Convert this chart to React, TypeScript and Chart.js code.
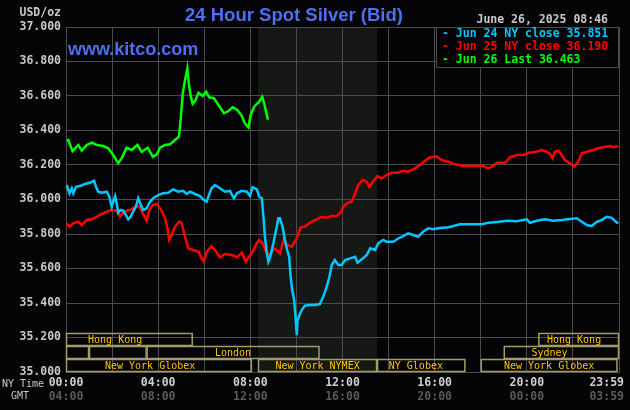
import React, { useEffect, useRef } from "react";
import { Chart, registerables } from "chart.js";
Chart.register(...registerables);

// ---- data (minutes after 00:00 NY time, price USD/oz) ----
const jun24Times = [2, 9, 15, 19, 26, 36, 49, 62, 73, 78, 84, 93, 106, 113, 119, 123, 128, 132, 136, 142, 149, 155, 162, 168, 175, 182, 188, 193, 201, 210, 219, 227, 240, 253, 266, 279, 292, 305, 314, 323, 336, 349, 359, 366, 379, 388, 401, 414, 427, 437, 445, 458, 471, 479, 486, 497, 503, 510, 514, 518, 523, 527, 533, 540, 547, 553, 557, 564, 570, 576, 581, 585, 589, 594, 597, 601, 603, 608, 614, 622, 635, 648, 661, 670, 679, 686, 692, 700, 709, 718, 727, 740, 753, 759, 770, 783, 792, 805, 813, 826, 835, 852, 865, 878, 891, 904, 917, 930, 943, 956, 969, 996, 1009, 1026, 1052, 1082, 1100, 1122, 1148, 1174, 1200, 1208, 1226, 1247, 1269, 1291, 1312, 1330, 1343, 1356, 1369, 1382, 1395, 1408, 1421, 1432, 1438];
const jun24Values = [36.084, 36.036, 36.065, 36.036, 36.074, 36.078, 36.09, 36.097, 36.109, 36.074, 36.045, 36.039, 36.045, 36.016, 35.958, 35.987, 36.02, 35.978, 35.923, 35.939, 35.935, 35.914, 35.885, 35.9, 35.929, 35.958, 36.007, 35.978, 35.939, 35.949, 35.987, 36.007, 36.026, 36.036, 36.039, 36.059, 36.045, 36.05, 36.032, 36.045, 36.032, 36.02, 35.997, 35.987, 36.065, 36.084, 36.065, 36.045, 36.05, 36.007, 36.036, 36.05, 36.045, 36.02, 36.071, 36.059, 36.016, 36.007, 35.9, 35.784, 35.688, 35.64, 35.678, 35.746, 35.823, 35.891, 35.891, 35.842, 35.765, 35.707, 35.668, 35.552, 35.475, 35.417, 35.34, 35.214, 35.3, 35.33, 35.359, 35.384, 35.388, 35.388, 35.394, 35.437, 35.495, 35.552, 35.62, 35.649, 35.62, 35.62, 35.649, 35.659, 35.668, 35.634, 35.653, 35.678, 35.717, 35.707, 35.746, 35.765, 35.755, 35.755, 35.774, 35.788, 35.804, 35.794, 35.784, 35.813, 35.833, 35.827, 35.833, 35.839, 35.846, 35.856, 35.856, 35.856, 35.865, 35.87, 35.877, 35.874, 35.885, 35.865, 35.877, 35.885, 35.877, 35.881, 35.887, 35.891, 35.871, 35.852, 35.846, 35.871, 35.881, 35.9, 35.894, 35.871, 35.861];

const jun25Times = [2, 9, 19, 32, 41, 54, 67, 80, 93, 106, 119, 132, 141, 148, 158, 171, 182, 191, 200, 210, 217, 226, 236, 247, 258, 264, 269, 275, 284, 295, 301, 310, 318, 331, 345, 353, 359, 366, 379, 391, 401, 414, 431, 446, 458, 468, 477, 486, 497, 503, 512, 521, 531, 540, 549, 557, 568, 575, 588, 601, 611, 622, 635, 653, 666, 679, 692, 705, 714, 722, 733, 744, 753, 761, 773, 783, 790, 799, 811, 822, 835, 848, 865, 878, 891, 904, 922, 935, 948, 965, 978, 996, 1009, 1022, 1035, 1061, 1087, 1100, 1109, 1122, 1143, 1156, 1174, 1191, 1204, 1221, 1239, 1252, 1260, 1267, 1273, 1282, 1291, 1299, 1312, 1323, 1334, 1343, 1356, 1373, 1386, 1399, 1416, 1425, 1438];
const jun25Values = [35.862, 35.842, 35.862, 35.871, 35.852, 35.881, 35.885, 35.9, 35.916, 35.929, 35.939, 35.935, 35.9, 35.92, 35.935, 35.943, 35.962, 35.958, 35.92, 35.877, 35.939, 35.968, 35.974, 35.943, 35.891, 35.833, 35.765, 35.794, 35.842, 35.871, 35.862, 35.784, 35.717, 35.707, 35.697, 35.659, 35.64, 35.697, 35.73, 35.697, 35.665, 35.684, 35.678, 35.665, 35.692, 35.64, 35.668, 35.697, 35.748, 35.765, 35.746, 35.697, 35.678, 35.717, 35.707, 35.688, 35.775, 35.736, 35.726, 35.775, 35.839, 35.842, 35.865, 35.885, 35.9, 35.894, 35.904, 35.904, 35.92, 35.958, 35.981, 35.987, 36.036, 36.084, 36.113, 36.103, 36.074, 36.103, 36.136, 36.123, 36.142, 36.155, 36.155, 36.167, 36.161, 36.175, 36.2, 36.225, 36.245, 36.249, 36.229, 36.219, 36.206, 36.2, 36.194, 36.194, 36.194, 36.181, 36.19, 36.213, 36.213, 36.245, 36.258, 36.258, 36.271, 36.275, 36.287, 36.277, 36.264, 36.239, 36.277, 36.283, 36.258, 36.229, 36.21, 36.19, 36.219, 36.268, 36.277, 36.287, 36.297, 36.303, 36.31, 36.303, 36.31];

const jun26Times = [2, 6, 17, 32, 41, 54, 67, 80, 97, 110, 123, 136, 145, 158, 171, 186, 197, 213, 226, 236, 245, 258, 271, 284, 294, 299, 304, 310, 316, 320, 325, 330, 336, 345, 356, 365, 373, 385, 397, 411, 423, 434, 446, 458, 466, 475, 481, 490, 503, 511, 516, 521, 526];
const jun26Values = [36.34, 36.345, 36.28, 36.316, 36.283, 36.316, 36.33, 36.316, 36.31, 36.297, 36.258, 36.21, 36.24, 36.3, 36.287, 36.316, 36.277, 36.3, 36.248, 36.26, 36.3, 36.316, 36.32, 36.345, 36.364, 36.47, 36.616, 36.693, 36.76, 36.67, 36.596, 36.554, 36.57, 36.619, 36.6, 36.625, 36.592, 36.587, 36.548, 36.5, 36.513, 36.534, 36.519, 36.484, 36.44, 36.418, 36.49, 36.538, 36.567, 36.596, 36.558, 36.509, 36.463];

const seriesNames = ["Jun 24 NY close 35.851", "Jun 25 NY close 36.190", "Jun 26 Last 36.463"];

const nyTickTimes = [0, 240, 480, 720, 960, 1200, 1439];
const nyTickLabels = ["00:00", "04:00", "08:00", "12:00", "16:00", "20:00", "23:59"];
const gmtTickLabels = ["04:00", "08:00", "12:00", "16:00", "20:00", "00:00", "03:59"];

// trading sessions: [start, end] minutes, row (0 top), label, label centre minute
const sessionStarts = [0, 1230, 0, 60, 210, 1140, 0, 500, 810, 1080];
const sessionEnds = [330, 1440, 60, 210, 660, 1440, 484, 810, 1040, 1436];
const sessionRows = [0, 0, 1, 1, 1, 1, 2, 2, 2, 2];
const sessionLabels = ["Hong Kong", "Hong Kong", "", "", "London", "Sydney", "New York Globex", "New York NYMEX", "NY Globex", "New York Globex"];
const sessionLabelAt = [128, 1323, 30, 135, 435, 1259, 219, 655, 911, 1258];

const nymexStart = 500;
const nymexEnd = 810;

const TITLE = "24 Hour Spot Silver (Bid)";
const SITE = "www.kitco.com";
const STAMP = "June 26, 2025 08:46";
const UNIT = "USD/oz";

const BG = "#050407";
const GRID = "#4b4b4b";
const MONO = '"DejaVu Sans Mono", monospace';
const SANS = '"Liberation Sans", Arial, sans-serif';
const COLORS = ["#00c8ff", "#ff0000", "#00ff00"];

const zip = (t: number[], v: number[]) => t.map((x, i) => ({ x, y: v[i] }));

const bgPlugin = {
  id: "bgPlugin",
  beforeDraw(chart: any) {
    const { ctx, chartArea, scales } = chart;
    ctx.save();
    ctx.fillStyle = BG;
    ctx.fillRect(0, 0, chart.width, chart.height);
    const x0 = scales.x.getPixelForValue(nymexStart);
    const x1 = scales.x.getPixelForValue(nymexEnd);
    ctx.fillStyle = "#151815";
    ctx.fillRect(x0, chartArea.top, x1 - x0, chartArea.bottom - chartArea.top);
    ctx.restore();
  },
};

const overlayPlugin = {
  id: "overlayPlugin",
  afterDraw(chart: any) {
    const { ctx, chartArea, scales } = chart;
    const xs = scales.x;
    ctx.save();

    // sessions
    const rowH = 13;
    for (let i = 0; i < sessionStarts.length; i++) {
      const a = xs.getPixelForValue(sessionStarts[i]);
      const b = xs.getPixelForValue(sessionEnds[i]);
      const top = chartArea.bottom - rowH * (3 - sessionRows[i]);
      ctx.strokeStyle = "#a49c68";
      ctx.lineWidth = 1.5;
      ctx.strokeRect(a + 0.5, top + 0.5, b - a - 1, rowH - 1);
      if (sessionLabels[i]) {
        ctx.fillStyle = "#ffc400";
        ctx.font = `10px ${MONO}`;
        ctx.textAlign = "center";
        ctx.textBaseline = "middle";
        ctx.fillText(sessionLabels[i], xs.getPixelForValue(sessionLabelAt[i]), top + rowH / 2 + 0.5);
      }
    }

    // legend box
    const lx = 436;
    ctx.fillStyle = BG;
    ctx.fillRect(lx, chartArea.top, chartArea.right - lx, 40);
    ctx.strokeStyle = GRID;
    ctx.lineWidth = 1;
    ctx.strokeRect(lx + 0.5, chartArea.top + 0.5, chartArea.right - lx - 1, 40);
    ctx.font = `bold 11.5px ${MONO}`;
    ctx.textAlign = "left";
    ctx.textBaseline = "middle";
    seriesNames.forEach((n, i) => {
      ctx.fillStyle = COLORS[i];
      ctx.fillText("- " + n, lx + 6, chartArea.top + 7.5 + i * 12.7);
    });

    // titles
    ctx.fillStyle = "#4f6ef2";
    ctx.font = `bold 18.5px ${SANS}`;
    ctx.textAlign = "center";
    ctx.fillText(TITLE, 294, 16);
    ctx.font = `bold 18px ${SANS}`;
    ctx.textAlign = "left";
    ctx.fillText(SITE, 68, 50);

    ctx.fillStyle = "#c8c8c8";
    ctx.font = `bold 11.5px ${MONO}`;
    ctx.textAlign = "right";
    ctx.fillText(STAMP, 608, 20);
    ctx.fillText(UNIT, 61, 13);

    // x labels
    ctx.font = `10px ${MONO}`;
    ctx.textAlign = "left";
    ctx.fillStyle = "#c8c8c8";
    ctx.fillText("NY Time", 2, 384);
    ctx.fillText("GMT", 11, 396);
    ctx.font = `bold 11.5px ${MONO}`;
    ctx.textAlign = "center";
    nyTickTimes.forEach((t, i) => {
      let x = xs.getPixelForValue(t);
      const w = ctx.measureText(nyTickLabels[i]).width;
      x = Math.min(x, chart.width - 6 - w / 2);
      ctx.fillStyle = "#d0d0d0";
      ctx.fillText(nyTickLabels[i], x, 383);
      ctx.fillStyle = "#5a5a5a";
      ctx.fillText(gmtTickLabels[i], x, 397);
    });
    ctx.restore();
  },
};

export default function App() {
  const ref = useRef<HTMLCanvasElement | null>(null);
  useEffect(() => {
    if (!ref.current) return;
    const chart = new Chart(ref.current, {
      type: "line",
      data: {
        datasets: [
          { label: "Jun 24", data: zip(jun24Times, jun24Values), borderColor: COLORS[0], borderWidth: 2.5, pointRadius: 0, tension: 0 },
          { label: "Jun 25", data: zip(jun25Times, jun25Values), borderColor: COLORS[1], borderWidth: 2.5, pointRadius: 0, tension: 0 },
          { label: "Jun 26", data: zip(jun26Times, jun26Values), borderColor: COLORS[2], borderWidth: 2.5, pointRadius: 0, tension: 0 },
        ],
      },
      options: {
        responsive: false,
        animation: false,
        devicePixelRatio: 1,
        layout: { padding: { top: 27, right: 11, left: 0, bottom: 0 } },
        plugins: { legend: { display: false }, tooltip: { enabled: false }, title: { display: false } },
        scales: {
          x: {
            type: "linear",
            min: 0,
            max: 1440,
            ticks: { display: false, stepSize: 120 },
            grid: { color: GRID, drawTicks: false },
            border: { color: GRID },
            afterFit: (s: any) => { s.height = 38; },
          },
          y: {
            min: 35,
            max: 37,
            ticks: {
              stepSize: 0.2,
              color: "#c8c8c8",
              padding: 5,
              font: { family: MONO, size: 11.5, weight: "bold" },
              callback: (v: any) => Number(v).toFixed(3),
            },
            grid: { color: GRID, drawTicks: false },
            border: { color: GRID },
            afterFit: (s: any) => { s.width = 66; },
          },
        },
      } as any,
      plugins: [bgPlugin, overlayPlugin],
    });
    return () => chart.destroy();
  }, []);
  return (
    <div style={{ position: "fixed", left: 0, top: 0, width: 630, height: 410, background: BG }}>
      <canvas ref={ref} width={630} height={410} style={{ display: "block", width: 630, height: 410 }} />
    </div>
  );
}
